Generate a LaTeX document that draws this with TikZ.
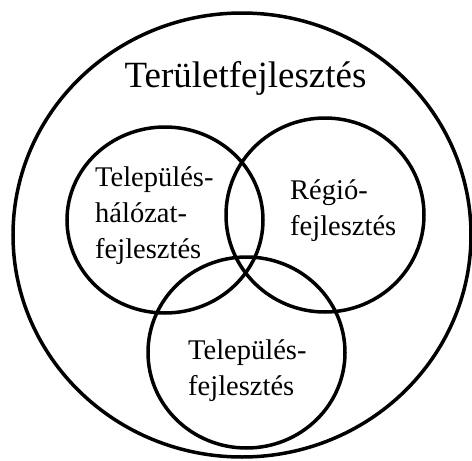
\documentclass[tikz,border=0pt]{standalone}
\usepackage{fontspec}
\setmainfont{Liberation Serif}
\newfontfamily\timesfont{Liberation Serif}
\begin{document}
\begin{tikzpicture}[x=1pt,y=-1pt,
  ring/.style={draw=black,line width=3.5pt},
  bigtext/.style={font=\timesfont\fontsize{37}{44}\selectfont,inner sep=0pt},
  smalltext/.style={font=\timesfont\fontsize{28.5}{36}\selectfont,inner sep=0pt,align=left}]
\useasboundingbox (0,0) rectangle (472,461);
\draw[ring] (242,235) ellipse [x radius=229, y radius=222];
\draw[ring] (165,220) ellipse [x radius=98, y radius=93];
\draw[ring] (325,215) ellipse [x radius=99, y radius=97];
\draw[ring] (246.5,352.5) ellipse [x radius=98.5, y radius=95.5];
\node[bigtext,anchor=base] (title) at (245.5,87) {Területfejlesztés};
\node[smalltext,anchor=base west] (a) at (95,258) {Település-\\hálózat-\\fejlesztés};
\node[smalltext,anchor=base west] (b) at (290,235) {Régió-\\fejlesztés};
\node[smalltext,anchor=base west] (c) at (188,395) {Település-\\fejlesztés};
\end{tikzpicture}
\end{document}
